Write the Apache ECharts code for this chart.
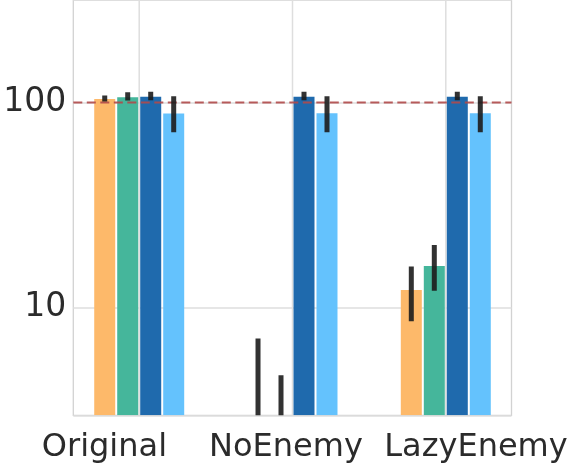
<!DOCTYPE html>
<html>
<head>
<meta charset="utf-8">
<script src="https://cdn.jsdelivr.net/npm/echarts@6/dist/echarts.min.js"></script>
<style>html,body{margin:0;padding:0;background:#fff;}#c{width:578px;height:466px;}</style>
</head>
<body>
<div id="c"></div>
<script>
// ---- data ----
const categories = ['Original', 'NoEnemy', 'LazyEnemy'];
const seriesNames = ['Series 1', 'Series 2', 'Series 3', 'Series 4'];
const seriesColors = ['#fdb96a', '#45b69b', '#1f6aad', '#64c2fd'];
// mean values (NoEnemy series 1 & 2 lie below the visible range)
const meanS1 = [104.0, 1.0, 12.2];
const meanS2 = [105.8, 1.0, 16.0];
const meanS3 = [106.6, 106.6, 106.6];
const meanS4 = [88.4, 88.6, 88.6];
// error bar lower / upper ends
const loS1 = [101.0, 0.5, 8.6];
const hiS1 = [108.0, 7.1, 15.9];
const loS2 = [102.0, 0.5, 12.1];
const hiS2 = [112.0, 4.7, 20.2];
const loS3 = [102.5, 102.3, 102.5];
const hiS3 = [112.6, 112.6, 112.6];
const loS4 = [71.5, 71.5, 71.5];
const hiS4 = [107.0, 107.0, 107.0];
const referenceValue = 100;
const yTickLabels = [10, 100];

const means = [meanS1, meanS2, meanS3, meanS4];
const los = [loS1, loS2, loS3, loS4];
const his = [hiS1, hiS2, hiS3, hiS4];

// ---- layout/style ----
const offsets = [-0.225, -0.075, 0.075, 0.225];
const barW = 0.137;
const labelPos = [-0.227, 0.957, 2.197];

const chart = echarts.init(document.getElementById('c'), null, {renderer: 'canvas'});

function barRender(color) {
  return function (params, api) {
    const x = api.value(0), v = api.value(1);
    const cs = params.coordSys;
    const bottom = cs.y + cs.height;
    const c = api.coord([x, v]);
    const xl = api.coord([x - barW / 2, v])[0];
    const xr = api.coord([x + barW / 2, v])[0];
    const top = Math.max(c[1], cs.y);
    if (!(top < bottom)) return null;
    return {type: 'rect', shape: {x: xl, y: top, width: xr - xl, height: bottom - top},
      style: {fill: color}};
  };
}
function errRender(params, api) {
  const x = api.value(0);
  const a = api.coord([x, api.value(1)]);
  const b = api.coord([x, api.value(2)]);
  const w = 5;
  return {type: 'rect', shape: {x: a[0] - w / 2, y: b[1], width: w, height: a[1] - b[1]},
    style: {fill: 'rgba(28,28,28,0.9)'}};
}

const series = [];
// vertical grid lines at category centres
series.push({
  type: 'custom', z: 1, silent: true, clip: true,
  data: categories.map((c, i) => [i, referenceValue]),
  encode: {x: 0, y: 1},
  renderItem: function (params, api) {
    const cs = params.coordSys;
    const x = api.coord([api.value(0), api.value(1)])[0];
    return {type: 'line', shape: {x1: x, y1: cs.y, x2: x, y2: cs.y + cs.height},
      style: {stroke: '#dedede', lineWidth: 1.5}};
  }
});
means.forEach((m, s) => {
  series.push({
    name: seriesNames[s], type: 'custom', z: 2, clip: true,
    data: m.map((v, i) => [i + offsets[s], v]),
    encode: {x: 0, y: 1},
    renderItem: barRender(seriesColors[s])
  });
});
// reference line
series.push({
  type: 'custom', z: 3, silent: true, clip: true,
  data: [[0, referenceValue]],
  encode: {x: 0, y: 1},
  renderItem: function (params, api) {
    const cs = params.coordSys;
    const y = api.coord([api.value(0), api.value(1)])[1];
    return {type: 'line', shape: {x1: cs.x, y1: y, x2: cs.x + cs.width, y2: y},
      style: {stroke: 'rgba(176,74,74,0.9)', lineWidth: 2, lineDash: [9, 4.5]}};
  }
});
means.forEach((m, s) => {
  series.push({
    name: seriesNames[s] + ' err', type: 'custom', z: 4, clip: true, silent: true,
    data: m.map((v, i) => [i + offsets[s], los[s][i], his[s][i]]),
    encode: {x: 0, y: [1, 2]},
    renderItem: errRender
  });
});

chart.setOption({
  animation: false,
  backgroundColor: '#fff',
  grid: {left: 73.3, right: 66.5, top: -2, bottom: 50.7, show: true,
    borderColor: '#d2d2d2', borderWidth: 1.3, backgroundColor: 'transparent'},
  xAxis: {
    type: 'value', min: -0.43, max: 2.4286,
    axisLine: {show: false}, axisTick: {show: false}, splitLine: {show: false},
    axisLabel: {
      customValues: labelPos,
      formatter: function (v) { return categories[Math.round(v)] || ''; },
      fontFamily: 'DejaVu Sans', fontSize: 32, color: '#2b2b2b', margin: 16
    }
  },
  yAxis: {
    type: 'log', logBase: 10, min: 3.0, max: 315,
    axisLine: {show: false}, axisTick: {show: false},
    splitLine: {show: true, lineStyle: {color: '#dedede', width: 1.5}},
    axisLabel: {
      fontFamily: 'DejaVu Sans', fontSize: 33, color: '#2b2b2b', margin: 7,
      padding: [3, 0, 0, 0],
      showMinLabel: false, showMaxLabel: false,
      formatter: function (v) {
        for (const t of yTickLabels) { if (Math.abs(v - t) / t < 1e-6) return String(t); }
        return '';
      }
    }
  },
  series: series
});
</script>
</body>
</html>
